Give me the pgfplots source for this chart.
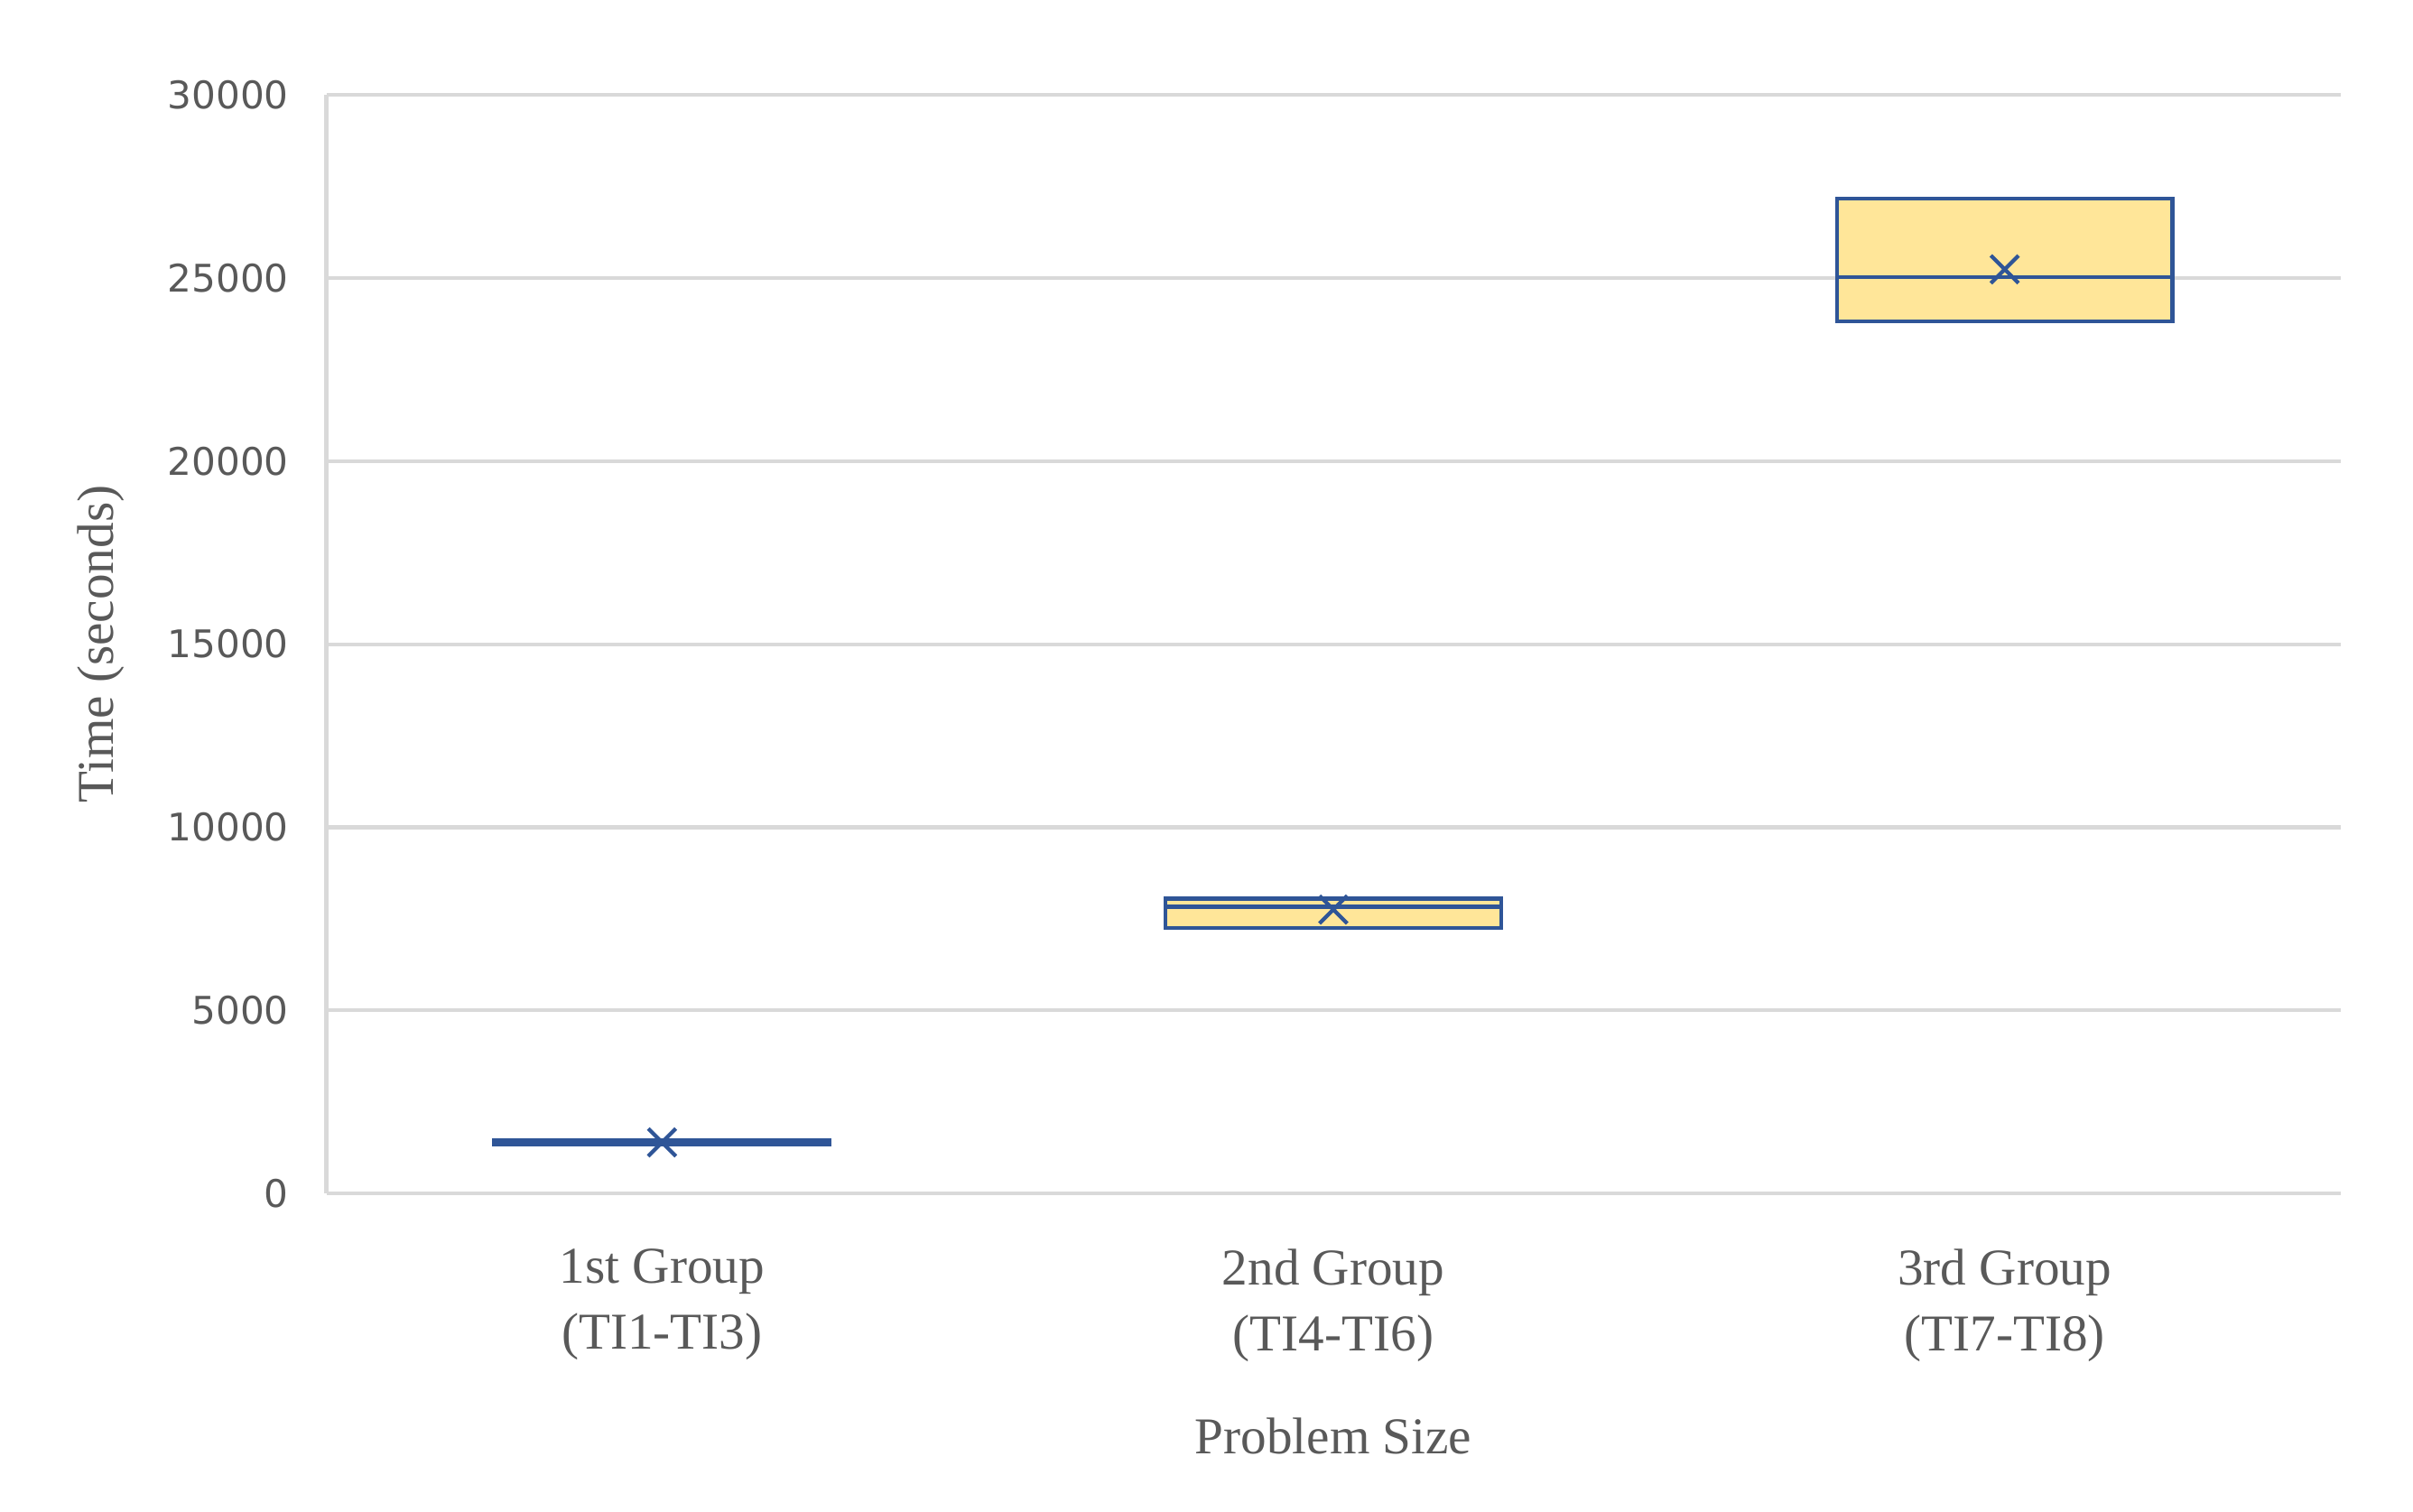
\documentclass[border=0pt]{standalone}
\usepackage{fontspec}
\usepackage{pgfplots}
\pgfplotsset{compat=1.18}
\usepgfplotslibrary{statistics}
\setmainfont{Liberation Serif}
\newfontfamily\tickfont{DejaVu Sans}
\definecolor{gridgray}{HTML}{D9D9D9}
\definecolor{txtgray}{HTML}{595959}
\definecolor{boxblue}{HTML}{2F5597}
\definecolor{boxfill}{HTML}{FFE699}
\begin{document}
\begin{tikzpicture}
\useasboundingbox (-2.11,-2.055) rectangle (13.49,7.715);
\begin{axis}[
  at={(0,0)}, anchor=origin,
  scale only axis,
  width=13.02cm, height=7.10cm,
  xmin=0.5, xmax=3.5,
  ymin=0, ymax=30000,
  ytick={0,5000,...,30000},
  xtick={1,2,3},
  xticklabels={{1st Group\\(TI1-TI3)},{2nd Group\\(TI4-TI6)},{3rd Group\\(TI7-TI8)}},
  scaled y ticks=false,
  yticklabel style={font=\tickfont\fontsize{7}{8}\selectfont, text=txtgray, xshift=-0.12cm},
  /pgf/number format/assume math mode=true,
  /pgf/number format/1000 sep={},
  xticklabel style={font=\fontsize{9.5}{12.2}\selectfont, text=txtgray, align=center, yshift=-0.235cm},
  major tick length=0pt,
  ymajorgrids,
  grid style={gridgray, line width=0.7pt},
  axis x line=bottom, axis y line=left,
  axis line style={gridgray, line width=0.7pt, -},
  xlabel={Problem Size},
  ylabel={Time (seconds)},
  label style={font=\fontsize{9.5}{11}\selectfont, text=txtgray},
  xlabel style={yshift=-0.12cm},
  ylabel style={yshift=0.04cm},
  boxplot/draw direction=y,
  boxplot/box extend=0.5,
  boxplot/whisker extend=0,
  boxplot/every average/.style={/tikz/mark=x, /tikz/mark size=3.6pt, /tikz/line width=0.8pt},
  clip=false,
]
% 1st Group
\addplot[draw=boxblue, fill=boxfill, line width=0.7pt, boxplot prepared={
  draw position=1, lower whisker=1340, lower quartile=1340, median=1400,
  upper quartile=1460, upper whisker=1460, average=1390}] coordinates {};
% 2nd Group
\addplot[draw=boxblue, fill=boxfill, line width=0.7pt, boxplot prepared={
  draw position=2, lower whisker=7250, lower quartile=7250, median=7830,
  upper quartile=8050, upper whisker=8050, average=7750}] coordinates {};
% 3rd Group
\addplot[draw=boxblue, fill=boxfill, line width=0.7pt, boxplot prepared={
  draw position=3, lower whisker=23810, lower quartile=23810, median=25030,
  upper quartile=27180, upper whisker=27180, average=25240}] coordinates {};
\end{axis}
\end{tikzpicture}
\end{document}
